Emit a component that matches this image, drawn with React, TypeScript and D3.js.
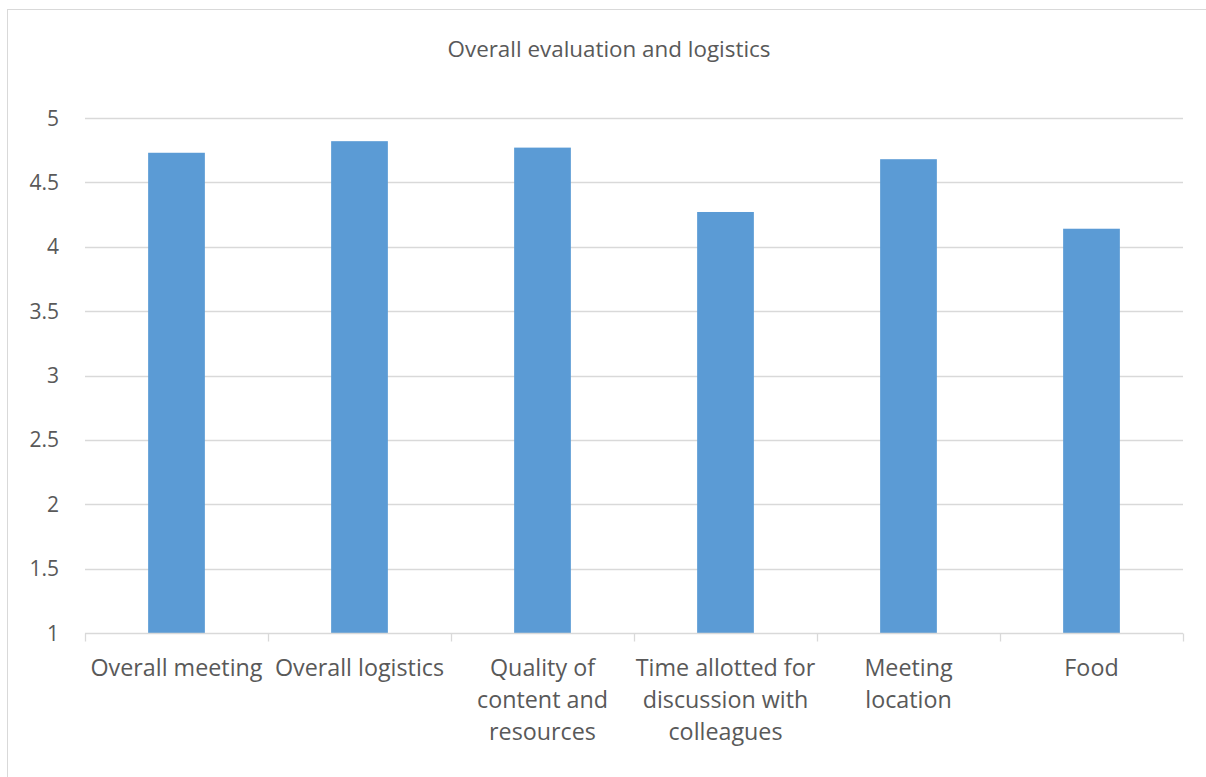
import * as d3 from 'd3';
import React, { useRef, useEffect } from 'react';

const categories = [
  ['Overall meeting'],
  ['Overall logistics'],
  ['Quality of', 'content and', 'resources'],
  ['Time allotted for', 'discussion with', 'colleagues'],
  ['Meeting', 'location'],
  ['Food'],
];
const scores = [4.73, 4.82, 4.77, 4.27, 4.68, 4.14];
const yTicks = [1, 1.5, 2, 2.5, 3, 3.5, 4, 4.5, 5];
const title = 'Overall evaluation and logistics';

const width = 1206;
const height = 777;
const margin = { top: 118, right: 23, bottom: 144, left: 85 };
const font = '"Open Sans", sans-serif';

function App() {
  const ref = useRef<SVGSVGElement>(null);

  useEffect(() => {
    const svg = d3.select(ref.current);
    svg.selectAll('*').remove();

    svg.append('rect').attr('width', width).attr('height', height).attr('fill', '#fff');
    // chart border (right/bottom edges fall outside the picture)
    svg
      .append('rect')
      .attr('x', 7.5)
      .attr('y', 9.5)
      .attr('width', 1204)
      .attr('height', 780)
      .attr('fill', 'none')
      .attr('stroke', '#d9d9d9');

    const x = d3
      .scaleBand<number>()
      .domain(d3.range(categories.length))
      .range([margin.left, width - margin.right])
      .paddingInner(0.69)
      .paddingOuter(0.345);

    const xEdges = d3
      .scaleLinear()
      .domain([0, categories.length])
      .range([margin.left, width - margin.right]);

    const y = d3
      .scaleLinear()
      .domain([1, 5])
      .range([height - margin.bottom, margin.top]);

    svg
      .append('text')
      .attr('x', 609)
      .attr('y', 57)
      .attr('text-anchor', 'middle')
      .attr('font-family', font)
      .attr('font-size', 22.4)
      .attr('fill', '#595959')
      .text(title);

    // gridlines
    svg
      .append('g')
      .selectAll('line')
      .data(yTicks.slice(1))
      .join('line')
      .attr('x1', margin.left)
      .attr('x2', width - margin.right)
      .attr('y1', (d) => Math.round(y(d)) + 0.5)
      .attr('y2', (d) => Math.round(y(d)) + 0.5)
      .attr('stroke', '#d9d9d9')
      .attr('stroke-width', 1.3);

    // y labels
    svg
      .append('g')
      .selectAll('text')
      .data(yTicks)
      .join('text')
      .attr('x', 59)
      .attr('y', (d) => y(d))
      .attr('dy', '0.36em')
      .attr('text-anchor', 'end')
      .attr('font-family', font)
      .attr('font-size', 21)
      .attr('fill', '#595959')
      .text((d) => String(d));

    // bars
    svg
      .append('g')
      .selectAll('rect')
      .data(scores)
      .join('rect')
      .attr('x', (_, i) => x(i)!)
      .attr('y', (d) => y(d))
      .attr('width', x.bandwidth())
      .attr('height', (d) => y(1) - y(d))
      .attr('fill', '#5b9bd5');

    // x axis line and ticks
    const axisY = Math.round(y(1)) + 0.5;
    svg
      .append('line')
      .attr('x1', margin.left)
      .attr('x2', width - margin.right)
      .attr('y1', axisY)
      .attr('y2', axisY)
      .attr('stroke', '#d9d9d9')
      .attr('stroke-width', 1.3);

    svg
      .append('g')
      .selectAll('line')
      .data(d3.range(categories.length + 1))
      .join('line')
      .attr('x1', (d) => Math.round(xEdges(d)) + 0.5)
      .attr('x2', (d) => Math.round(xEdges(d)) + 0.5)
      .attr('y1', axisY)
      .attr('y2', axisY + 8)
      .attr('stroke', '#d9d9d9')
      .attr('stroke-width', 1.3);

    // category labels
    const labels = svg
      .append('g')
      .selectAll('text')
      .data(categories)
      .join('text')
      .attr('x', (_, i) => x(i)! + x.bandwidth() / 2)
      .attr('y', 676)
      .attr('text-anchor', 'middle')
      .attr('font-family', font)
      .attr('font-size', 23.3)
      .attr('fill', '#595959');

    labels
      .selectAll('tspan')
      .data((d) => d)
      .join('tspan')
      .attr('x', function () {
        return (this.parentNode as SVGTextElement).getAttribute('x');
      })
      .attr('dy', (_, i) => (i === 0 ? 0 : 32))
      .text((d) => d);
  }, []);

  return (
    <svg
      ref={ref}
      width={width}
      height={height}
      style={{ position: 'absolute', left: 0, top: 0, display: 'block' }}
    />
  );
}

export default App;
